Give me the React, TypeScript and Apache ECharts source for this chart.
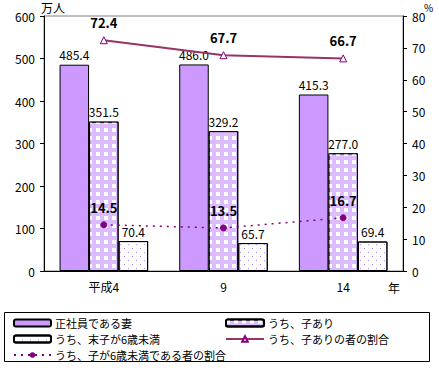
import React, { useEffect, useRef } from "react";
import * as echarts from "echarts";

const categories = ["平成4", "9", "14"];
const fullTimeWives = [485.4, 486.0, 415.3];
const withChildren = [351.5, 329.2, 277.0];
const youngestUnder6 = [70.4, 65.7, 69.4];
const withChildrenRatio = [72.4, 67.7, 66.7];
const under6Ratio = [14.5, 13.5, 16.7];

const FONT = "'Noto Sans CJK JP', 'Noto Sans', sans-serif";

export default function App() {
  const ref = useRef<HTMLDivElement>(null);
  useEffect(() => {
    if (!ref.current) return;
    const chart = echarts.init(ref.current, null, { renderer: "svg" });
    const barLabel = {
      show: true,
      position: "top" as const,
      distance: 4,
      color: "#000",
      fontSize: 12,
      fontFamily: FONT,
      formatter: (p: any) => Number(p.value).toFixed(1),
    };
    const lineLabel = {
      show: true,
      position: "top" as const,
      distance: 7,
      color: "#000",
      fontSize: 13,
      fontWeight: "bold" as const,
      fontFamily: FONT,
      formatter: (p: any) => Number(p.value).toFixed(1),
    };
    const legendText = { color: "#000", fontSize: 11, lineHeight: 12, fontFamily: FONT, padding: [0, 0, 0, -1] };
    chart.setOption({
      animation: false,
      backgroundColor: "#fff",
      textStyle: { fontFamily: FONT },
      grid: {
        left: 44,
        right: 36,
        top: 16,
        bottom: 100,
        show: true,
        borderColor: "#808080",
        borderWidth: 1,
        containLabel: false,
      },
      xAxis: {
        type: "category",
        data: categories,
        boundaryGap: true,
        axisLine: { lineStyle: { color: "#000" } },
        axisTick: { inside: true, length: 4, lineStyle: { color: "#000" } },
        axisLabel: { color: "#000", fontSize: 12, margin: 9, fontFamily: FONT },
      },
      yAxis: [
        {
          type: "value",
          min: 0,
          max: 600,
          interval: 100,
          position: "left",
          axisLine: { show: true, lineStyle: { color: "#000" } },
          axisTick: { show: true, length: 4, lineStyle: { color: "#000" } },
          axisLabel: { color: "#000", fontSize: 12, margin: 9, fontFamily: FONT },
          splitLine: { show: false },
        },
        {
          type: "value",
          min: 0,
          max: 80,
          interval: 10,
          position: "right",
          axisLine: { show: true, lineStyle: { color: "#000" } },
          axisTick: { show: true, length: 4, lineStyle: { color: "#000" } },
          axisLabel: { color: "#000", fontSize: 12, margin: 9, fontFamily: FONT },
          splitLine: { show: false },
        },
      ],
      legend: [
        {
          orient: "vertical",
          left: 8,
          top: 312,
          itemWidth: 37,
          itemHeight: 7,
          itemGap: 4,
          textStyle: legendText,
          data: ["正社員である妻", "うち、末子が6歳未満", "うち、子が6歳未満である者の割合"],
        },
        {
          orient: "vertical",
          left: 220,
          top: 312,
          itemWidth: 38,
          itemHeight: 7,
          itemGap: 4,
          textStyle: legendText,
          data: ["うち、子あり", "うち、子ありの者の割合"],
        },
      ],
      graphic: [
        {
          type: "rect",
          shape: { x: 4.5, y: 312.5, width: 425, height: 49 },
          style: { fill: "none", stroke: "#000", lineWidth: 1 },
          silent: true,
        },
        {
          type: "text",
          x: 41,
          y: 1,
          style: { text: "万人", fill: "#000", fontSize: 12, fontFamily: FONT },
        },
        {
          type: "text",
          x: 424,
          y: 2,
          style: { text: "%", fill: "#000", fontSize: 10, fontFamily: FONT },
        },
        {
          type: "text",
          x: 388,
          y: 281,
          style: { text: "年", fill: "#000", fontSize: 12, fontFamily: FONT },
        },
      ],
      series: [
        {
          name: "正社員である妻",
          type: "bar",
          data: fullTimeWives,
          barGap: "0%",
          barCategoryGap: "26%",
          itemStyle: { color: "#CC99FF", borderColor: "#000", borderWidth: 1 },
          label: barLabel,
        },
        {
          name: "うち、子あり",
          type: "bar",
          data: withChildren,
          barGap: "0%",
          barCategoryGap: "26%",
          itemStyle: {
            color: "#DDBBFF",
            borderColor: "#000",
            borderWidth: 1,
            decal: {
              symbol: "rect",
              symbolSize: 1,
              color: "#FFFFFF",
              backgroundColor: null,
              dashArrayX: [4, 4],
              dashArrayY: [4, 4],
              rotation: 0,
            },
          },
          label: barLabel,
        },
        {
          name: "うち、末子が6歳未満",
          type: "bar",
          data: youngestUnder6,
          barGap: "0%",
          barCategoryGap: "26%",
          itemStyle: {
            color: "#FFFFFF",
            borderColor: "#000",
            borderWidth: 1,
            decal: {
              symbol: "rect",
              symbolSize: 1,
              color: "#B48CF8",
              backgroundColor: null,
              dashArrayX: [[1, 7], [0, 4, 1, 3]],
              dashArrayY: [1, 3],
              rotation: 0,
            },
          },
          label: barLabel,
        },
        {
          name: "うち、子ありの者の割合",
          type: "line",
          yAxisIndex: 1,
          data: withChildrenRatio,
          symbol: "triangle",
          symbolSize: 7,
          lineStyle: { color: "#993366", width: 2 },
          itemStyle: { color: "#FFFFFF", borderColor: "#800080", borderWidth: 1 },
          label: lineLabel,
          z: 5,
        },
        {
          name: "うち、子が6歳未満である者の割合",
          type: "line",
          yAxisIndex: 1,
          data: under6Ratio,
          symbol: "circle",
          symbolSize: 6,
          lineStyle: { color: "#800080", width: 1.5, type: [2, 5] },
          itemStyle: { color: "#800080", borderColor: "#800080" },
          label: lineLabel,
          z: 5,
        },
      ],
    });
    return () => chart.dispose();
  }, []);
  return <div ref={ref} style={{ width: 439, height: 371, position: "absolute", left: 0, top: 0 }} />;
}
